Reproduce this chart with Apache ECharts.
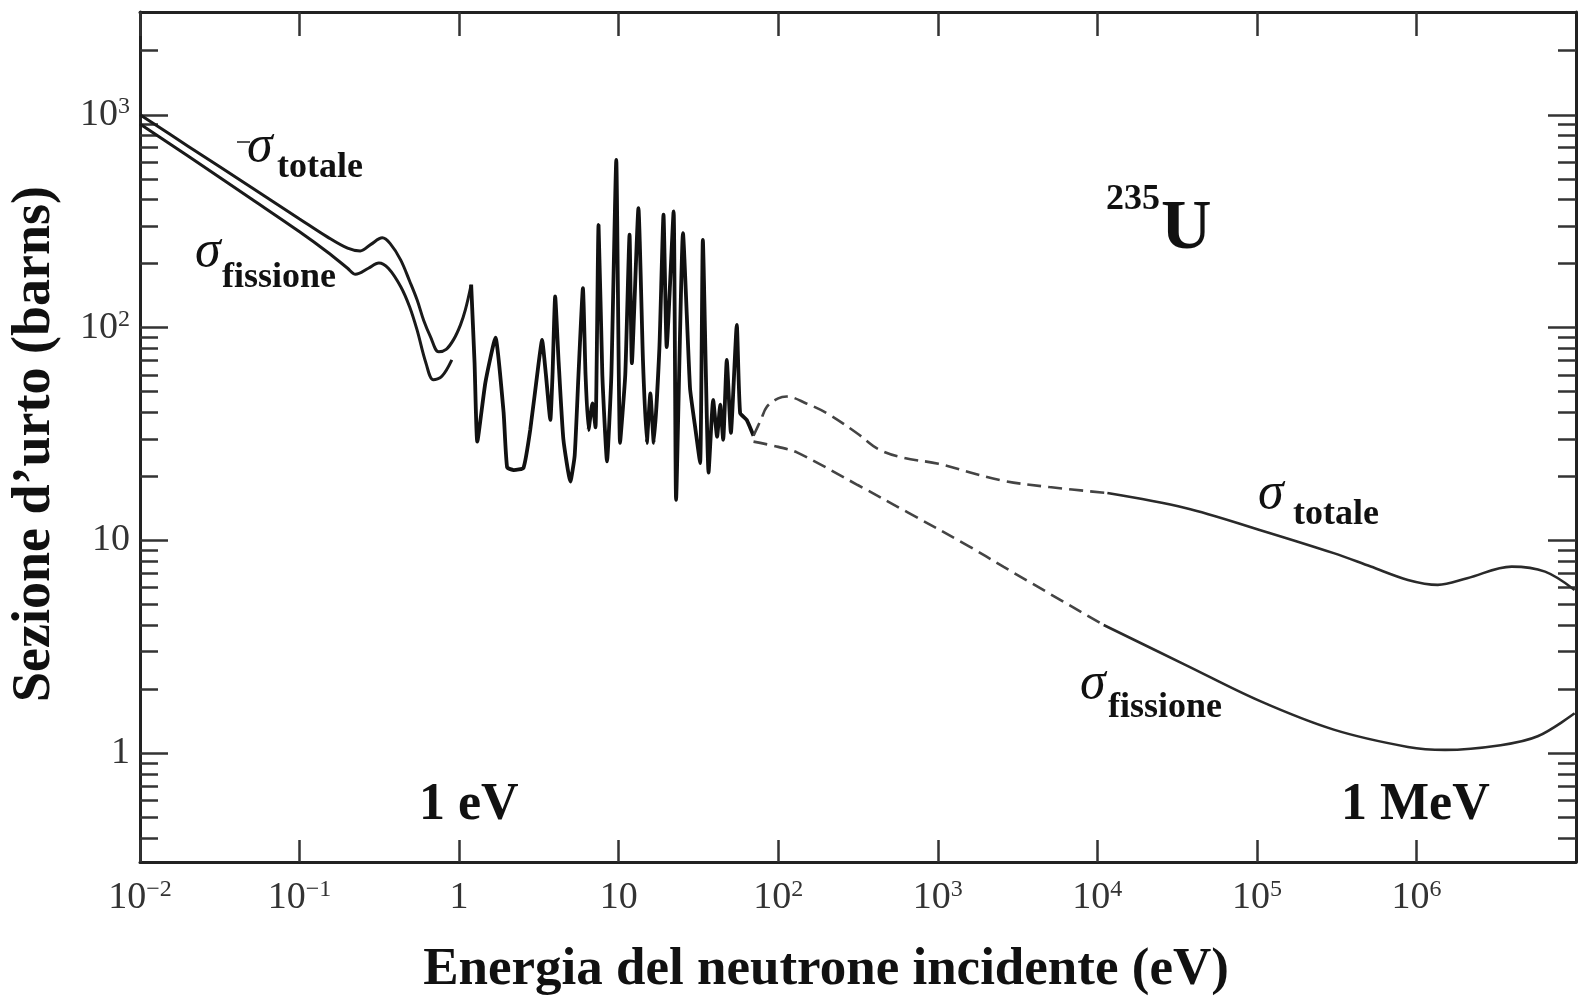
<!DOCTYPE html>
<html><head><meta charset="utf-8">
<script src="https://cdn.jsdelivr.net/npm/echarts@6/dist/echarts.min.js"></script>
<style>html,body{margin:0;padding:0;background:#fff}#c{width:1582px;height:998px}</style>
</head><body><div id="c"></div>
<script>
// ---- tick values ----
const xTickValues = [0.01, 0.1, 1, 10, 100, 1000, 1e4, 1e5, 1e6];
const yTickValues = [1, 10, 100, 1000];
const yMinorTickValues = [0.4,0.5,0.6,0.7,0.8,0.9, 2,3,4,5,6,7,8,9, 20,30,40,50,60,70,80,90, 200,300,400,500,600,700,800,900, 2000];

// ---- data: [energy (eV), cross section (barns)] ----
const totalThermal = [[0.01,1000],[0.02,712],[0.05,455],[0.1,324],[0.15,266],[0.2,236],[0.24,229],[0.28,246],[0.33,264],[0.37,248],[0.43,208],[0.49,165],[0.545,135],[0.6,108],[0.66,91],[0.745,77],[0.83,79],[0.925,88],[1.02,103],[1.094,121],[1.19,159]];
const fissionThermal = [[0.01,906],[0.02,640],[0.05,402],[0.1,282],[0.15,226],[0.2,190],[0.224,178],[0.27,190],[0.314,201],[0.36,190],[0.43,156],[0.49,125],[0.545,97.5],[0.62,68],[0.69,56.8],[0.78,59],[0.9,70.5]];
const totalResonance = [[1.19,159],[1.25,68],[1.30,29.1],[1.46,55],[1.69,89.6],[1.9,40],[2.0,22],[2.2,21.4],[2.53,21.9],[2.79,33],[3.15,68],[3.31,87.5],[3.5,60],[3.73,36.8],[3.85,60],[4.0,140],[4.2,70],[4.5,30],[4.98,18.9],[5.3,25],[5.6,60],[5.97,153],[6.2,60],[6.47,33],[6.84,44],[7.16,34],[7.48,304],[7.9,60],[8.45,23.5],[9.0,60],[9.66,614],[10.2,28.7],[11.0,60],[11.7,273],[12.1,68],[13.3,364],[14.2,70],[15.0,28.7],[15.8,49],[16.6,28.7],[18,80],[19.1,339],[20.0,81],[22.1,351],[22.9,15.5],[25.3,278],[28,52],[30,35],[32.4,23.1],[33.7,258],[36.6,20.8],[39.1,45.7],[41.4,30.7],[43.3,43.4],[45.2,29.7],[47.6,70.5],[50.5,32],[55,103],[57.7,39.7],[63.5,36.8],[70,31]];
const totalDashed = [[70,31],[78,37],[85,42.5],[100,46.5],[113,47.4],[150,44],[204,39.4],[315,31.7],[421,26.9],[600,24.5],[1009,22.9],[2450,19.2],[5000,17.8],[11560,16.7]];
const totalFast = [[11560,16.7],[35600,14.2],[104000,11.2],[303000,8.71],[517000,7.53],[884000,6.52],[1360000,6.18],[2080000,6.64],[3950000,7.53],[6400000,7.13],[9800000,5.85]];
const fissionDashed = [[70,29.1],[100,27.5],[131,25.9],[315,18.2],[652,13.5],[1560,9.4],[2590,7.5],[10960,4.0]];
const fissionFast = [[10960,4.0],[35600,2.6],[104000,1.76],[303000,1.29],[884000,1.07],[1510000,1.036],[3370000,1.09],[5750000,1.2],[9800000,1.54]];

const SERIF = '"Liberation Serif", "DejaVu Serif", serif';
function fmtLog(v) {
  const e = Math.round(Math.log10(v));
  if (e === 0) return '{b|1}';
  if (e === 1) return '{b|10}';
  return '{b|10}{s|' + (e < 0 ? '\u2212' + (-e) : e) + '}';
}
const labelRich = {
  b: { fontFamily: SERIF, fontSize: 38, lineHeight: 40, color: '#333' },
  s: { fontFamily: SERIF, fontSize: 24, lineHeight: 26, verticalAlign: 'top', color: '#333' }
};
const axisLineStyle = { show: true, onZero: false, lineStyle: { color: '#222', width: 3 } };
const tickStyle = { color: '#333', width: 2.5 };

const chart = echarts.init(document.getElementById('c'), null, { renderer: 'canvas' });
const lineBase = { type: 'line', showSymbol: false, symbol: 'none', animation: false, clip: true, z: 3 };

chart.setOption({
  animation: false,
  backgroundColor: '#fff',
  textStyle: { fontFamily: SERIF },
  grid: { left: 140, right: 6, top: 12, bottom: 136, containLabel: false, outerBoundsMode: 'none' },
  xAxis: [
    {
      type: 'log', logBase: 10, min: 0.01, max: 1e7, position: 'bottom',
      axisLine: axisLineStyle,
      axisTick: { show: true, inside: true, length: 22, lineStyle: tickStyle, customValues: xTickValues },
      axisLabel: { show: true, customValues: xTickValues, formatter: fmtLog, rich: labelRich, margin: 16, showMinLabel: true, showMaxLabel: true },
      minorTick: { show: false }, splitLine: { show: false },
      name: 'Energia del neutrone incidente (eV)', nameLocation: 'middle', nameGap: 82,
      nameTextStyle: { fontFamily: SERIF, fontWeight: 'bold', fontSize: 53, color: '#111', padding: [0, 64, 0, 0] }
    },
    {
      type: 'log', logBase: 10, min: 0.01, max: 1e7, position: 'top',
      axisLine: axisLineStyle,
      axisTick: { show: true, inside: true, length: 24, lineStyle: tickStyle, customValues: xTickValues },
      axisLabel: { show: false }, splitLine: { show: false }
    }
  ],
  yAxis: [
    {
      type: 'log', logBase: 10, min: 0.308, max: 3040, position: 'left',
      axisLine: axisLineStyle,
      axisTick: { show: true, inside: true, length: 28, lineStyle: tickStyle, customValues: yTickValues },
      axisLabel: { show: true, customValues: yTickValues, formatter: fmtLog, rich: labelRich, margin: 10 },
      splitLine: { show: false },
      name: 'Sezione d\u2019urto (barns)', nameLocation: 'middle', nameGap: 78, nameRotate: 90,
      nameTextStyle: { fontFamily: SERIF, fontWeight: 'bold', fontSize: 54, color: '#111', padding: [0, 14, 0, 0] }
    },
    {
      type: 'log', logBase: 10, min: 0.308, max: 3040, position: 'left',
      axisLine: { show: false },
      axisTick: { show: true, inside: true, length: 18, lineStyle: tickStyle, customValues: yMinorTickValues },
      axisLabel: { show: false }, splitLine: { show: false }
    },
    {
      type: 'log', logBase: 10, min: 0.308, max: 3040, position: 'right',
      axisLine: axisLineStyle,
      axisTick: { show: true, inside: true, length: 28, lineStyle: tickStyle, customValues: yTickValues },
      axisLabel: { show: false }, splitLine: { show: false }
    },
    {
      type: 'log', logBase: 10, min: 0.308, max: 3040, position: 'right',
      axisLine: { show: false },
      axisTick: { show: true, inside: true, length: 18, lineStyle: tickStyle, customValues: yMinorTickValues },
      axisLabel: { show: false }, splitLine: { show: false }
    }
  ],
  series: [
    Object.assign({}, lineBase, { name: 'σ totale (termico)', data: totalThermal, smooth: 0.35, lineStyle: { color: '#1a1a1a', width: 3 } }),
    Object.assign({}, lineBase, { name: 'σ fissione (termico)', data: fissionThermal, smooth: 0.35, lineStyle: { color: '#1a1a1a', width: 3 } }),
    Object.assign({}, lineBase, { name: 'σ risonanze', data: totalResonance, smooth: 0.15, lineStyle: { color: '#111', width: 3.8 } }),
    Object.assign({}, lineBase, { name: 'σ totale (tratteggio)', data: totalDashed, smooth: 0.35, lineStyle: { color: '#444', width: 2.6, type: [14, 7] } }),
    Object.assign({}, lineBase, { name: 'σ fissione (tratteggio)', data: fissionDashed, smooth: 0.35, lineStyle: { color: '#444', width: 2.6, type: [14, 7] } }),
    Object.assign({}, lineBase, { name: 'σ totale (veloce)', data: totalFast, smooth: 0.35, lineStyle: { color: '#2a2a2a', width: 2.6 } }),
    Object.assign({}, lineBase, { name: 'σ fissione (veloce)', data: fissionFast, smooth: 0.35, lineStyle: { color: '#2a2a2a', width: 2.6 } })
  ],
  graphic: [
    { type: 'line', shape: { x1: 237, y1: 142, x2: 250, y2: 142 }, style: { stroke: '#555', lineWidth: 2 } },
    { type: 'text', x: 247, y: 147, style: { text: 'σ', font: 'italic 52px ' + SERIF, fill: '#111', align: 'left', verticalAlign: 'middle' } },
    { type: 'text', x: 277, y: 168, style: { text: 'totale', font: 'bold 36px ' + SERIF, fill: '#111', align: 'left', verticalAlign: 'middle' } },
    { type: 'text', x: 195, y: 252, style: { text: 'σ', font: 'italic 52px ' + SERIF, fill: '#111', align: 'left', verticalAlign: 'middle' } },
    { type: 'text', x: 222, y: 278, style: { text: 'fissione', font: 'bold 36px ' + SERIF, fill: '#111', align: 'left', verticalAlign: 'middle' } },
    { type: 'text', x: 1106, y: 200, style: { text: '235', font: 'bold 36px ' + SERIF, fill: '#111', align: 'left', verticalAlign: 'middle' } },
    { type: 'text', x: 1161, y: 230, style: { text: 'U', font: 'bold 70px ' + SERIF, fill: '#111', align: 'left', verticalAlign: 'middle' } },
    { type: 'text', x: 1258, y: 494, style: { text: 'σ', font: 'italic 52px ' + SERIF, fill: '#111', align: 'left', verticalAlign: 'middle' } },
    { type: 'text', x: 1293, y: 515, style: { text: 'totale', font: 'bold 36px ' + SERIF, fill: '#111', align: 'left', verticalAlign: 'middle' } },
    { type: 'text', x: 1080, y: 684, style: { text: 'σ', font: 'italic 52px ' + SERIF, fill: '#111', align: 'left', verticalAlign: 'middle' } },
    { type: 'text', x: 1108, y: 708, style: { text: 'fissione', font: 'bold 36px ' + SERIF, fill: '#111', align: 'left', verticalAlign: 'middle' } },
    { type: 'text', x: 419, y: 806, style: { text: '1 eV', font: 'bold 52px ' + SERIF, fill: '#111', align: 'left', verticalAlign: 'middle' } },
    { type: 'text', x: 1341, y: 806, style: { text: '1 MeV', font: 'bold 52px ' + SERIF, fill: '#111', align: 'left', verticalAlign: 'middle' } }
  ]
});
</script>
</body></html>
